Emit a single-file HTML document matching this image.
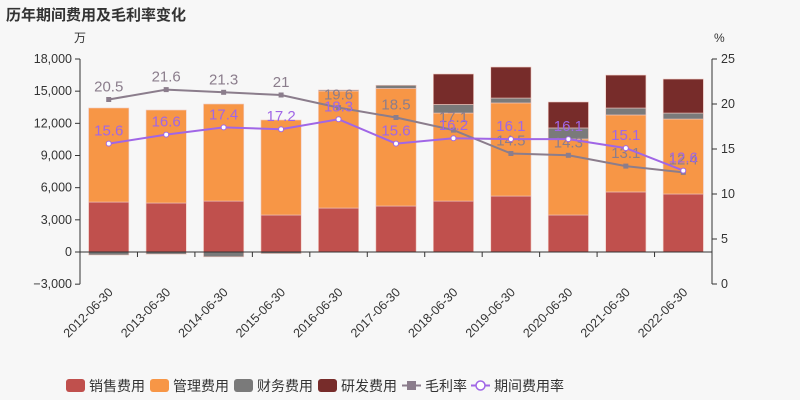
<!DOCTYPE html>
<html><head><meta charset="utf-8"><style>
body{margin:0;background:#f7f7f7;}
svg{display:block;font-family:"Liberation Sans","Noto Sans CJK SC",sans-serif;}
</style></head><body>
<svg id="c" width="800" height="400" viewBox="0 0 800 400">
<rect width="800" height="400" fill="#f7f7f7"/>
<text x="6" y="20" font-size="15" font-weight="bold" fill="#333">历年期间费用及毛利率变化</text>
<text x="74" y="42" font-size="12" fill="#333">万</text>
<text x="714" y="42" font-size="12" fill="#333">%</text>
<g id="g"></g>
</svg>
<script>
const categories=["2012-06-30","2013-06-30","2014-06-30","2015-06-30","2016-06-30","2017-06-30","2018-06-30","2019-06-30","2020-06-30","2021-06-30","2022-06-30"];
const sales=[4660,4570,4750,3450,4100,4290,4750,5220,3450,5600,5410];
const mgmt=[8770,8670,9050,8860,10910,10960,8210,8680,7090,7180,6990];
const finance=[-280,-200,-450,-150,100,300,800,460,1030,650,560];
const rd=[0,0,0,0,0,0,2840,2890,2420,3070,3170];
const grossMargin=[20.5,21.6,21.3,21,19.6,18.5,17.1,14.5,14.3,13.1,12.4];
const periodRate=[15.6,16.6,17.4,17.2,18.3,15.6,16.2,16.1,16.1,15.1,12.6];
const leftTicks=[-3000,0,3000,6000,9000,12000,15000,18000];
const rightTicks=[0,5,10,15,20,25];

const NS="http://www.w3.org/2000/svg";
const g=document.getElementById('g');
const X0=80,X1=712,n=categories.length,bw=(X1-X0)/n;
const yL=v=>252-v*(193/18000);
const yR=v=>284-v*9;
const xc=i=>X0+bw*(i+0.5);
function el(t,a,p){const e=document.createElementNS(NS,t);for(const k in a)e.setAttribute(k,a[k]);(p||g).appendChild(e);return e;}
function fmt(v){return v<0?"−"+Math.abs(v).toLocaleString('en-US'):v.toLocaleString('en-US');}
leftTicks.forEach(v=>{
 const y=yL(v);
 el('line',{x1:X0-5,x2:X0,y1:y,y2:y,stroke:'#333'});
 const t=el('text',{x:X0-8,y:y+4,'text-anchor':'end','font-size':12.5,fill:'#333'});t.textContent=fmt(v);
 
 
});
rightTicks.forEach(v=>{
 const y=yR(v);
 el('line',{x1:X1,x2:X1+5,y1:y,y2:y,stroke:'#333'});
 const t=el('text',{x:X1+9,y:y+4,'font-size':12.5,fill:'#333'});t.textContent=v;
 
 
});
el('line',{x1:X0,x2:X0,y1:yL(18000),y2:yL(-3000),stroke:'#333'});
el('line',{x1:X1,x2:X1,y1:yR(25),y2:yR(0),stroke:'#333'});
const colors=['#c0504d','#f79646','#7a7a7a','#772c2a'];
const names=['sales','mgmt','finance','rd'];
const series=[sales,mgmt,finance,rd];
for(let i=0;i<n;i++){
 let pos=0,neg=0;
 series.forEach((s,k)=>{
  const v=s[i];if(!v)return;
  let a,b;
  if(v>=0){a=pos;b=pos+v;pos=b;}else{a=neg;b=neg+v;neg=b;}
  const y1=yL(Math.max(a,b)),y2=yL(Math.min(a,b));
  const r=el('rect',{x:xc(i)-bw*0.35,y:y1,width:bw*0.7,height:Math.max(y2-y1,0.5),fill:colors[k],stroke:'#f0c8c0','stroke-width':0.6});
  
  
 });
}
el('line',{x1:X0,x2:X1,y1:yL(0),y2:yL(0),stroke:'#333'});
for(let i=0;i<=n;i++){el('line',{x1:X0+bw*i,x2:X0+bw*i,y1:yL(0),y2:yL(0)+5,stroke:'#333'});}
categories.forEach((c,i)=>{
 const x=xc(i)+5,y=293;
 const t=el('text',{x:x,y:y,'text-anchor':'end','font-size':12.5,fill:'#333',transform:`rotate(-45 ${x} ${y})`});t.textContent=c;
 
 
});
function line(data,color,name,square,lblColor){
 const p=el('polyline',{points:data.map((v,i)=>xc(i)+','+yR(v)).join(' '),fill:'none',stroke:color,'stroke-width':2});
 
 
 data.forEach((v,i)=>{
  let m;
  if(square)m=el('rect',{x:xc(i)-2.5,y:yR(v)-2.5,width:5,height:5,fill:color});
  else m=el('circle',{cx:xc(i),cy:yR(v),r:2.5,fill:'#fff',stroke:color,'stroke-width':1});
  
  
  const t=el('text',{x:xc(i),y:yR(v)-8,'text-anchor':'middle','font-size':15,fill:lblColor});t.textContent=v;
  
  
 });
}
line(grossMargin,'#8b7d8c','gross-margin',true,'#8b7d8c');
line(periodRate,'#a066e6','period-rate',false,'#a066e6');
const leg=[['销售费用','#c0504d',66],['管理费用','#f79646',150],['财务费用','#7a7a7a',234],['研发费用','#772c2a',318]];
leg.forEach(([t,c,x])=>{
 const r=el('rect',{x:x,y:379,width:19,height:13,rx:3,fill:c});
 
 
 const tx=el('text',{x:x+23,y:391,'font-size':14,fill:'#333'});tx.textContent=t;
 
 
});
el('line',{x1:402,x2:421,y1:385.5,y2:385.5,stroke:'#8b7d8c','stroke-width':2});
el('rect',{x:407,y:381,width:9,height:9,fill:'#8b7d8c'});
let t1=el('text',{x:425,y:391,'font-size':14,fill:'#333'});t1.textContent='毛利率';


el('line',{x1:471,x2:490,y1:385.5,y2:385.5,stroke:'#a066e6','stroke-width':2});
el('circle',{cx:480.5,cy:385.5,r:4.5,fill:'#fff',stroke:'#a066e6','stroke-width':1.5});
let t2=el('text',{x:494,y:391,'font-size':14,fill:'#333'});t2.textContent='期间费用率';


</script>
</body></html>
